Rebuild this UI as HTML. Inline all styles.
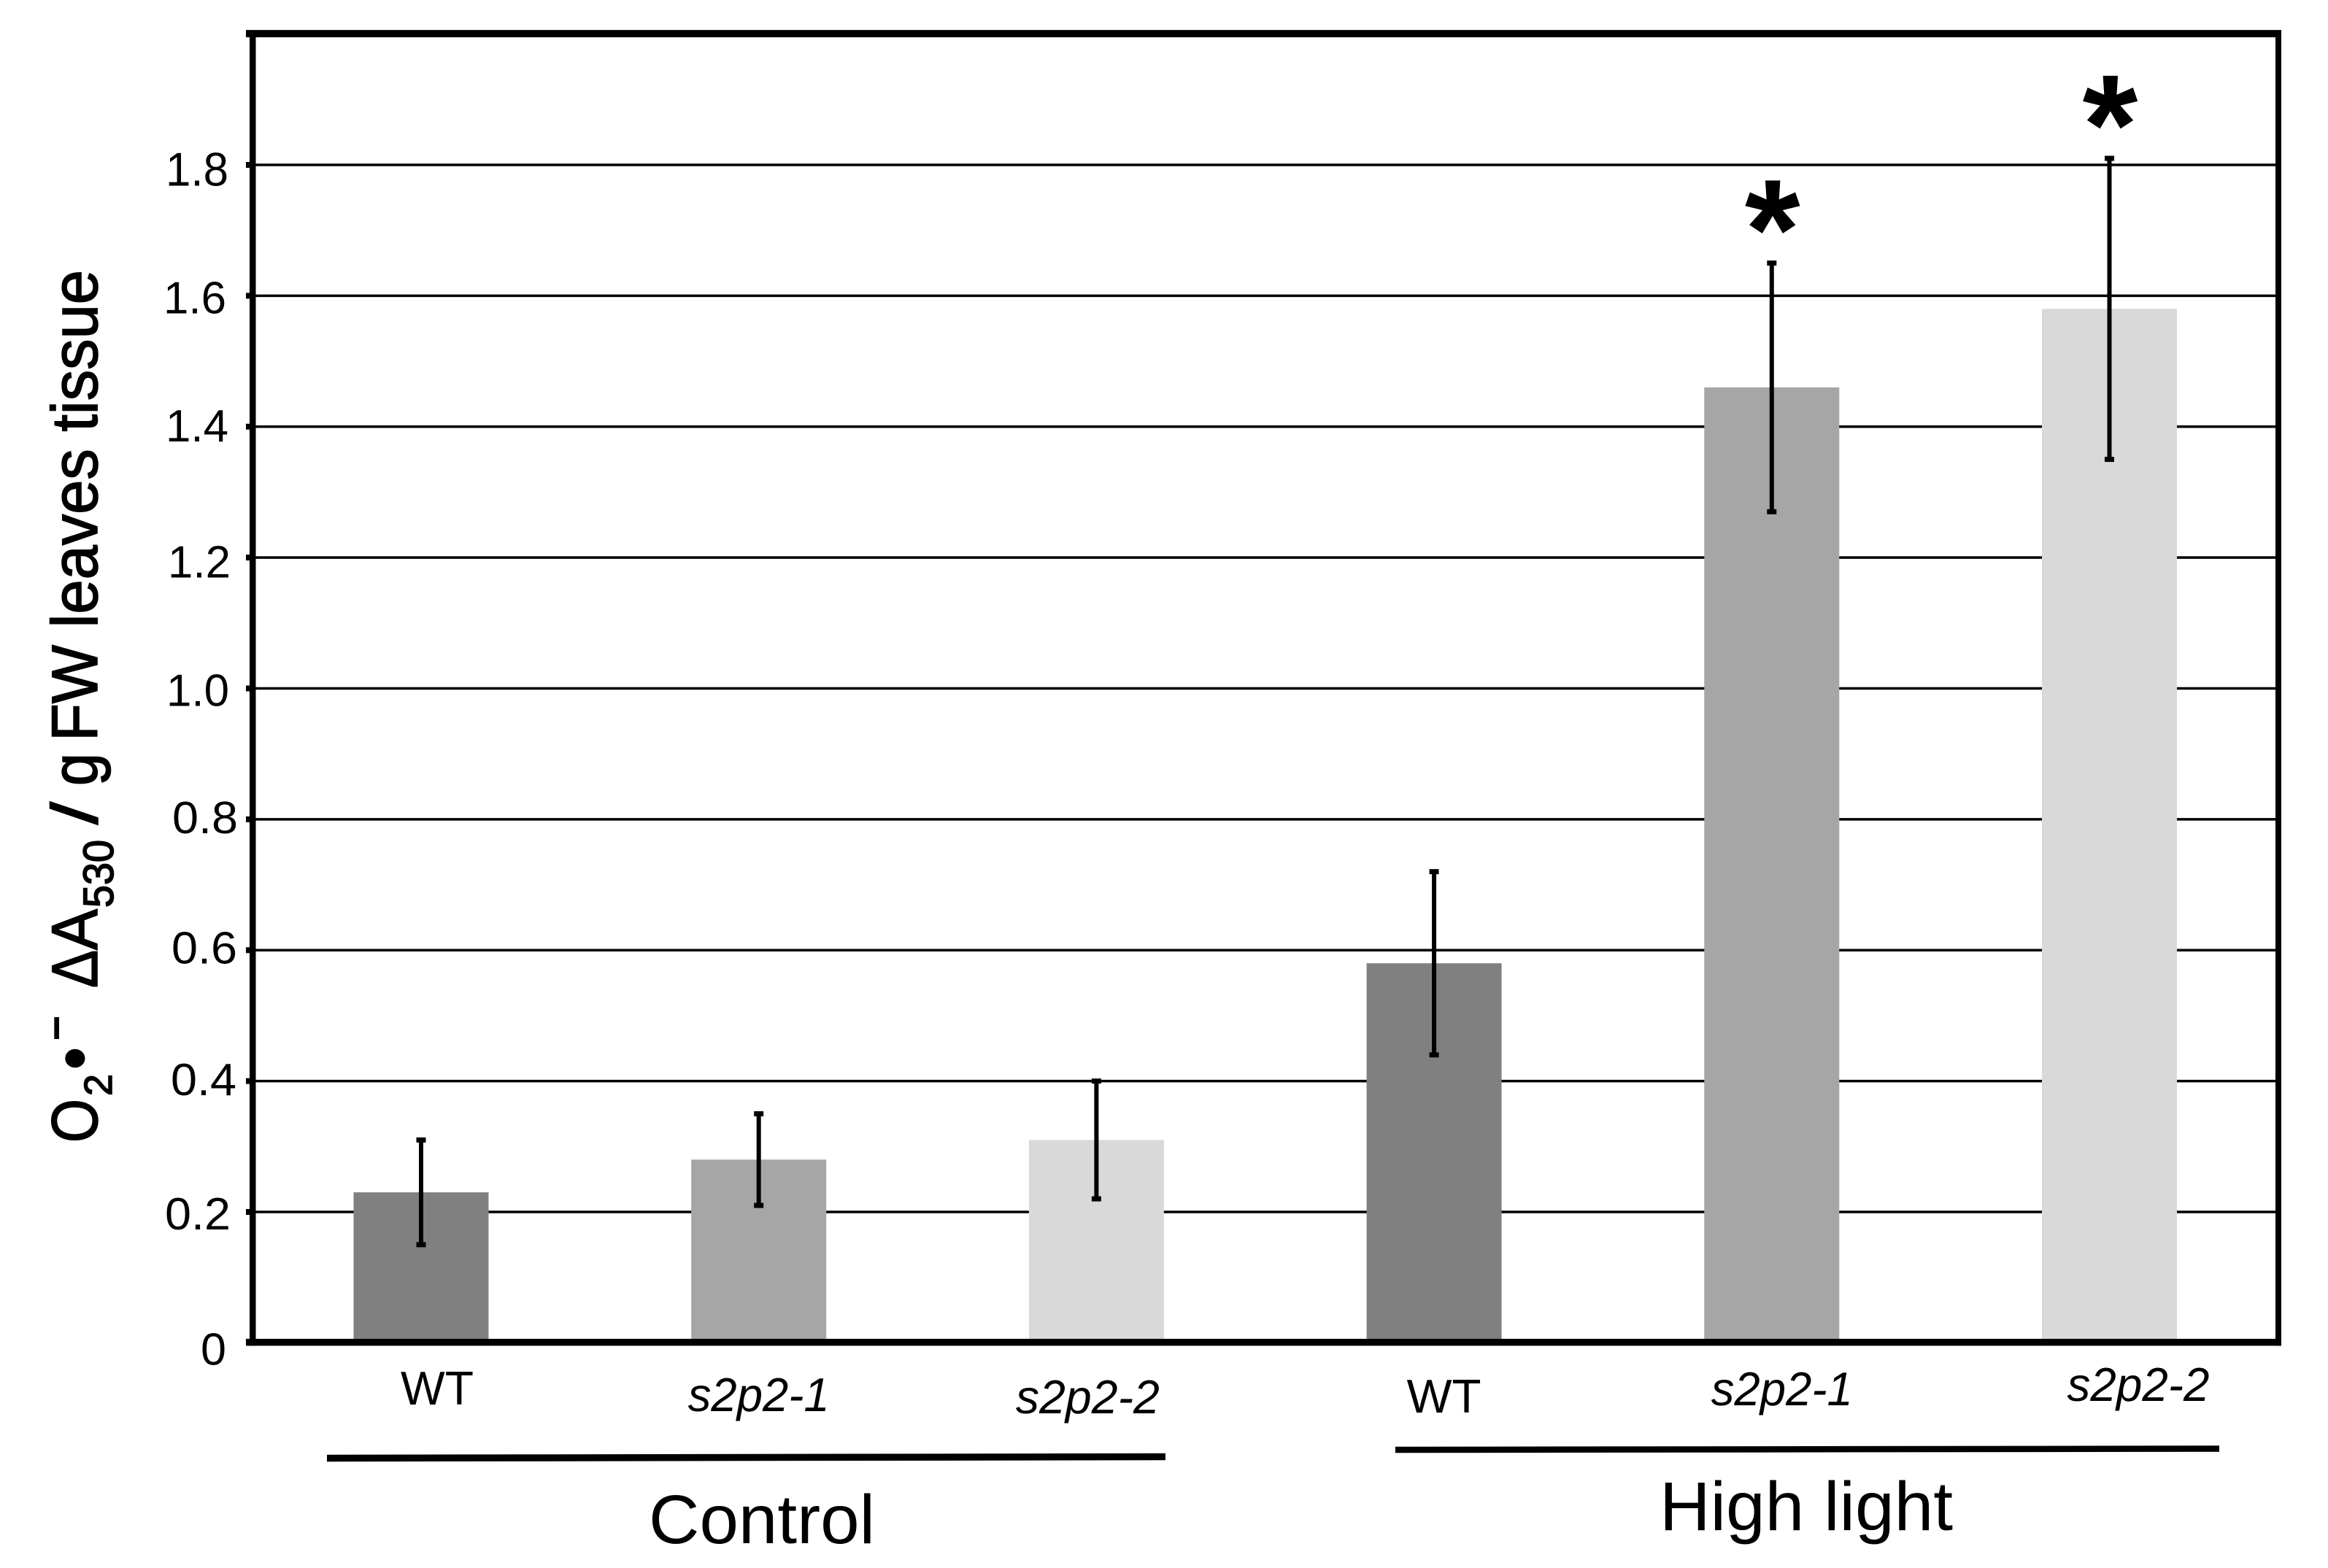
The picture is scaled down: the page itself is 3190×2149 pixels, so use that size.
<!DOCTYPE html>
<html lang="en">
<head>
<meta charset="utf-8">
<title>Superoxide levels in WT and s2p2 lines</title>
<style>
  html, body { margin: 0; padding: 0; background: #fff; }
  svg { display: block; }
  text { font-family: "Liberation Sans", sans-serif; fill: #000; }
  .title-part { stroke: #000; stroke-width: 1.6; }
</style>
</head>
<body>
<svg id="chart" xmlns="http://www.w3.org/2000/svg" width="3190" height="2149" viewBox="0 0 3190 2149">
  <rect x="0" y="0" width="3190" height="2149" fill="#ffffff"/>
  <g id="grid-layer"></g>
  <g id="bar-layer"></g>
  <g id="error-layer"></g>
  <g id="axis-layer"></g>
  <g id="label-layer"></g>

  <g>
    <text class="title-part" transform="translate(133,1566) rotate(-90)" font-size="89" textLength="60" lengthAdjust="spacingAndGlyphs">O</text>
    <text class="title-part" transform="translate(153,1502) rotate(-90)" font-size="54" textLength="30" lengthAdjust="spacingAndGlyphs">2</text>
    <text transform="translate(136,1467) rotate(-90)" font-size="100" textLength="33" lengthAdjust="spacingAndGlyphs">•</text>
    <text transform="translate(103,1424) rotate(-90)" font-size="100" textLength="30" lengthAdjust="spacingAndGlyphs">–</text>
    <text class="title-part" transform="translate(133,1354) rotate(-90)" font-size="89" textLength="52" lengthAdjust="spacingAndGlyphs">Δ</text>
    <text class="title-part" transform="translate(133,1302) rotate(-90)" font-size="89" textLength="56" lengthAdjust="spacingAndGlyphs">A</text>
    <text class="title-part" transform="translate(155,1244) rotate(-90)" font-size="58" textLength="93" lengthAdjust="spacingAndGlyphs">530</text>
    <text class="title-part" transform="translate(133,1130) rotate(-90)" font-size="89" textLength="31" lengthAdjust="spacingAndGlyphs">/</text>
    <text class="title-part" transform="translate(133,1077) rotate(-90)" font-size="89" textLength="45" lengthAdjust="spacingAndGlyphs">g</text>
    <text class="title-part" transform="translate(133,1016) rotate(-90)" font-size="89" textLength="646" lengthAdjust="spacingAndGlyphs">FW leaves tissue</text>
  </g>

  <line x1="448" y1="1998.5" x2="1597" y2="1996.5" stroke="#000" stroke-width="9.5"/>
  <line x1="1912" y1="1987" x2="3041" y2="1985.5" stroke="#000" stroke-width="8.5"/>
  <text x="1044" y="2115" font-size="95" text-anchor="middle" textLength="310" lengthAdjust="spacingAndGlyphs">Control</text>
  <text x="2475" y="2097" font-size="95" text-anchor="middle" textLength="402" lengthAdjust="spacingAndGlyphs">High light</text>
</svg>

<script>
// Chart data
const categories = ['WT', 's2p2-1', 's2p2-2', 'WT', 's2p2-1', 's2p2-2'];
const barValues = [0.23, 0.28, 0.31, 0.58, 1.46, 1.58];
const errorLow = [0.15, 0.21, 0.22, 0.44, 1.27, 1.35];
const errorHigh = [0.31, 0.35, 0.40, 0.72, 1.65, 1.81];
const significant = [false, false, false, false, true, true];
const tickValues = [0, 0.2, 0.4, 0.6, 0.8, 1.0, 1.2, 1.4, 1.6, 1.8];
const tickLabels = ['0', '0.2', '0.4', '0.6', '0.8', '1.0', '1.2', '1.4', '1.6', '1.8'];

// Axis functions
const yZero = 1840.4, yPerUnit = 896.9;
const xFirst = 577, xStep = 462.7;
function yScale(v) { return yZero - yPerUnit * v; }
function xScale(i) { return xFirst + xStep * i; }

const barWidth = 185;
const yMax = 2.0;
const plotLeft = 346, plotRight = 3122;
const barFills = ['#808080', '#a6a6a6', '#d9d9d9'];

// Hand placement of labels, as in the original figure
const tickLabelPlacement = {
  '0':   { right: 310, dy: 8,  size: 62, len: 35 },
  '0.2': { right: 316, dy: 2,  size: 62, len: 90 },
  '0.4': { right: 324, dy: -3, size: 62, len: 90 },
  '0.6': { right: 325, dy: -4, size: 62, len: 90 },
  '0.8': { right: 326, dy: -3, size: 62, len: 90 },
  '1.0': { right: 314, dy: 2,  size: 62, len: 86 },
  '1.2': { right: 316, dy: 5,  size: 62, len: 86 },
  '1.4': { right: 313, dy: -2, size: 62, len: 86 },
  '1.6': { right: 310, dy: 2,  size: 62, len: 86 },
  '1.8': { right: 313, dy: 5,  size: 65, len: 86 }
};
const categoryLabelNudge = [
  { dx: 22,    base: 1925, len: 100 },
  { dx: 0,     base: 1934, len: 194 },
  { dx: -12,   base: 1937, len: 197 },
  { dx: 13.5,  base: 1936, len: 102 },
  { dx: 14,    base: 1926, len: 194 },
  { dx: 39.5,  base: 1920, len: 195 }
];

const NS = 'http://www.w3.org/2000/svg';
function make(tag, parent, attrs) {
  const el = document.createElementNS(NS, tag);
  for (const k in attrs) el.setAttribute(k, attrs[k]);
  parent.appendChild(el);
  return el;
}

const gridLayer = document.getElementById('grid-layer');
const barLayer = document.getElementById('bar-layer');
const errorLayer = document.getElementById('error-layer');
const axisLayer = document.getElementById('axis-layer');
const labelLayer = document.getElementById('label-layer');

// Gridlines, tick marks and tick labels
tickValues.forEach(function (v, i) {
  const y = yScale(v);
  if (v > 0) {
    const grid = make('rect', gridLayer, { x: plotLeft, y: y - 1.75, width: plotRight - plotLeft, height: 3.5, fill: '#000' });
    
    
    const tick = make('rect', axisLayer, { x: 337, y: y - 4, width: 10, height: 8, fill: '#000' });
    
    
  }
  const place = tickLabelPlacement[tickLabels[i]];
  const label = make('text', labelLayer, {
    x: place.right, y: y + place.dy + place.size * 0.358,
    'font-size': place.size, 'text-anchor': 'end',
    textLength: place.len, lengthAdjust: 'spacingAndGlyphs'
  });
  label.textContent = tickLabels[i];
  
  
});

// Bars, error bars, significance marks and category labels
categories.forEach(function (name, i) {
  const cx = xScale(i);
  const top = yScale(barValues[i]);
  const bar = make('rect', barLayer, { x: cx - barWidth / 2, y: top, width: barWidth, height: yScale(0) - top, fill: barFills[i % 3] });
  
  

  const hi = yScale(errorHigh[i]);
  const lo = yScale(errorLow[i]);
  const stem = make('line', errorLayer, { x1: cx, x2: cx, y1: hi, y2: lo, stroke: '#000', 'stroke-width': 6 });
  
  
  const capTop = make('rect', errorLayer, { x: cx - 6.5, y: hi - 3.5, width: 13, height: 7, fill: '#000' });
  
  
  const capLow = make('rect', errorLayer, { x: cx - 6.5, y: lo - 3.5, width: 13, height: 7, fill: '#000' });
  
  

  if (significant[i]) {
    const star = make('text', labelLayer, { x: cx + 1, y: hi + 21, 'font-size': 195, 'font-weight': 'bold', 'text-anchor': 'middle' });
    star.textContent = '*';
    
    
  }

  const nudge = categoryLabelNudge[i];
  const cat = make('text', labelLayer, {
    x: cx + nudge.dx, y: nudge.base, 'font-size': 65, 'text-anchor': 'middle',
    textLength: nudge.len, lengthAdjust: 'spacingAndGlyphs'
  });
  if (name !== 'WT') cat.setAttribute('font-style', 'italic');
  cat.textContent = name;
  
  
});

// Plot frame
const leftAxis = make('rect', axisLayer, { x: 342, y: yScale(yMax) - 5, width: 8.5, height: yScale(0) - yScale(yMax) + 9, fill: '#000' });


const rightBorder = make('rect', axisLayer, { x: 3118, y: yScale(yMax) - 5, width: 8, height: yScale(0) - yScale(yMax) + 9, fill: '#000' });


const topBorder = make('rect', axisLayer, { x: 337, y: yScale(yMax) - 5.5, width: 2789, height: 10, fill: '#000' });


const xAxis = make('rect', axisLayer, { x: 337, y: yScale(0) - 5.5, width: 2789, height: 9.5, fill: '#000' });


</script>
</body>
</html>
